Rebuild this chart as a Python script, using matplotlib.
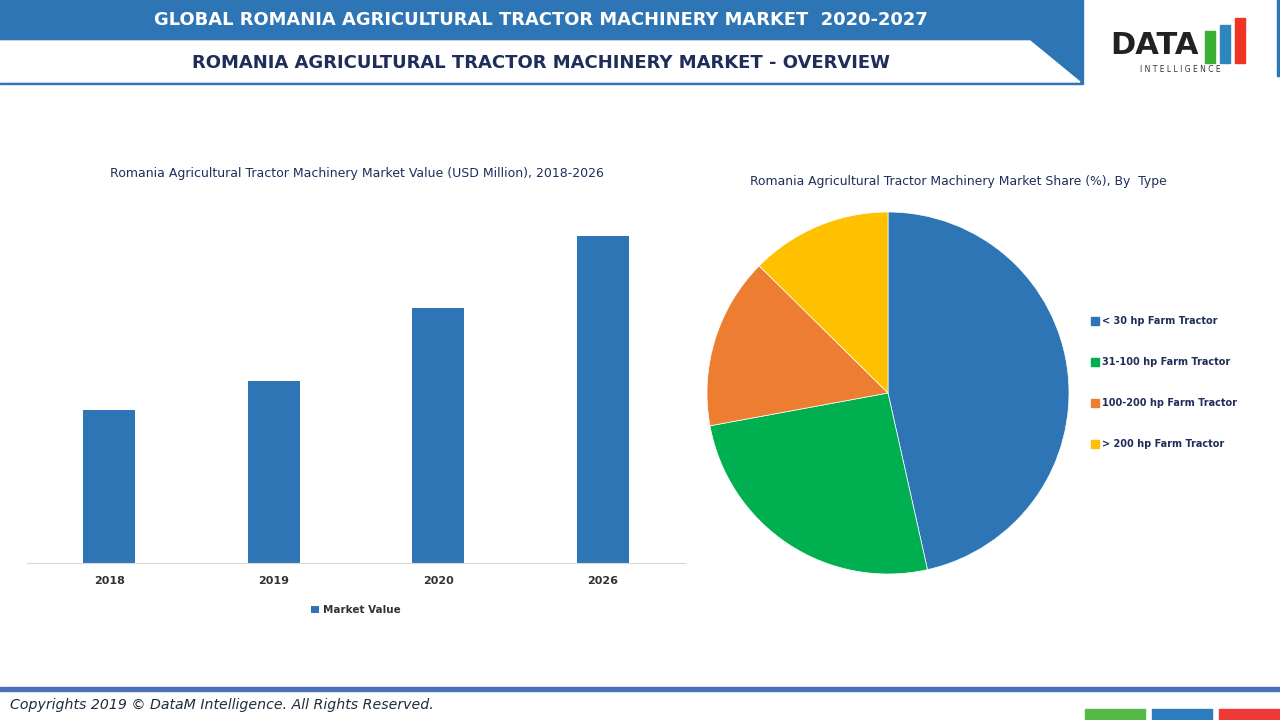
import matplotlib
matplotlib.use("Agg")
import matplotlib.pyplot as plt
from matplotlib.patches import Rectangle, Polygon

# data
years = ["2018", "2019", "2020", "2026"]
market_value = [153, 182, 255, 327]
types = ["< 30 hp Farm Tractor", "31-100 hp Farm Tractor", "100-200 hp Farm Tractor", "> 200 hp Farm Tractor"]
shares = [46.5, 25.6, 15.3, 12.6]
pie_colors = ["#2e75b6", "#00b050", "#ed7d31", "#ffc000"]

BLUE = "#2e75b6"
NAVY = "#1f2d5a"
W, H = 1280, 720

fig = plt.figure(figsize=(12.8, 7.2), dpi=100)
fig.patch.set_facecolor("white")

def px(x, y):  # pixel (top-left origin) -> figure coords
    return x / W, 1 - y / H

def rect(x0, y0, x1, y1, color, z=1):
    fig.patches.append(Rectangle(px(x0, y1), (x1 - x0) / W, (y1 - y0) / H,
                                 transform=fig.transFigure, color=color, zorder=z))

# header
fig.patches.append(Polygon([px(0, 0), px(1083, 0), px(1083, 84), px(0, 84)],
                           closed=True, transform=fig.transFigure, color=BLUE, zorder=1))
fig.patches.append(Polygon([px(0, 41), px(1030, 41), px(1080, 82), px(0, 82)],
                           closed=True, transform=fig.transFigure, color="white", zorder=2))
rect(1277, 0, 1280, 76, BLUE)
fig.text(*px(541, 20), "GLOBAL ROMANIA AGRICULTURAL TRACTOR MACHINERY MARKET  2020-2027",
         color="white", fontsize=12.9, fontweight="bold", ha="center", va="center")
fig.text(*px(541, 63), "ROMANIA AGRICULTURAL TRACTOR MACHINERY MARKET - OVERVIEW",
         color=NAVY, fontsize=13, fontweight="bold", ha="center", va="center")

# logo
fig.text(*px(1110, 46), "DATA", color="#222222", fontsize=22, fontweight="bold",
         ha="left", va="center")
for i, (c, top) in enumerate([("#3cb034", 31), ("#2e86c1", 25), ("#ee3524", 18)]):
    rect(1205 + i * 15, top, 1215 + i * 15, 63, c, z=3)
fig.text(*px(1180, 69), "I N T E L L I G E N C E", color="#333333", fontsize=5.5,
         ha="center", va="center")

# footer
rect(0, 687, 1280, 691, "#4a72b8")
fig.text(*px(10, 705), "Copyrights 2019 \u00a9 DataM Intelligence. All Rights Reserved.",
         color="#1f2d3d", fontsize=10.2, style="italic", ha="left", va="center")
rect(1085, 709, 1145, 720, "#56b947")
rect(1152, 709, 1212, 720, "#2e7ebf")
rect(1219, 709, 1280, 720, "#ee3a36")

# bar chart
ax = fig.add_axes([27 / W, 1 - 563 / H, (685 - 27) / W, (563 - 200) / H])
ax.bar(range(len(years)), market_value, width=0.316, color=BLUE, label="Market Value")
ax.set_xlim(-0.5, 3.5)
ax.set_ylim(0, 363)
ax.set_xticks(range(len(years)))
ax.set_xticklabels(years, fontsize=8, fontweight="bold", color="#333333")
ax.tick_params(axis="x", length=0, pad=9)
ax.set_yticks([])
for s in ["top", "left", "right"]:
    ax.spines[s].set_visible(False)
ax.spines["bottom"].set_color("#d9d9d9")
fig.text(*px(357, 173), "Romania Agricultural Tractor Machinery Market Value (USD Million), 2018-2026",
         color=NAVY, fontsize=9, ha="center", va="center")
ax.legend(loc="upper center", bbox_to_anchor=(0.5, -0.09), frameon=False,
          handlelength=0.7, handleheight=0.7, handletextpad=0.4,
          prop={"size": 7.5, "weight": "bold"}, labelcolor="#333333")

# pie chart
r = 181
pax = fig.add_axes([(888 - r) / W, 1 - (393 + r) / H, 2 * r / W, 2 * r / H])
pax.pie(shares, colors=pie_colors, startangle=90, counterclock=False,
        wedgeprops={"linewidth": 0.5, "edgecolor": "white"})
pax.set_xlim(-1, 1)
pax.set_ylim(-1, 1)
pax.set_aspect("equal")
fig.text(*px(958, 181), "Romania Agricultural Tractor Machinery Market Share (%), By  Type",
         color=NAVY, fontsize=8.9, ha="center", va="center")
for i, (t, c) in enumerate(zip(types, pie_colors)):
    y = 321 + i * 41
    rect(1091, y - 4, 1099, y + 4, c, z=3)
    fig.text(*px(1102, y), t, color=NAVY, fontsize=7, fontweight="bold", ha="left", va="center")

fig.savefig("out.png", dpi=100)
